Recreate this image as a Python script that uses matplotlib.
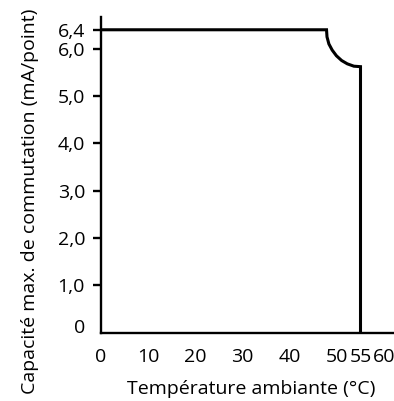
import matplotlib
matplotlib.use("Agg")
import matplotlib.pyplot as plt
from matplotlib.transforms import ScaledTranslation

# Derating curve: max switching capacity vs ambient temperature
temperature = [0, 47.8, 47.9, 48.3, 49.0, 49.9, 51.0, 52.2, 53.6, 55.0, 55.0]
capacity = [6.4, 6.4, 6.25, 6.1, 5.97, 5.85, 5.75, 5.68, 5.63, 5.62, 0]

x_ticks = [0, 10, 20, 30, 40, 50, 55, 60]
x_tick_labels = ["0", "10", "20", "30", "40", "50", "55", "60"]
x_marked_ticks = [55, 60]
y_ticks = [0, 1.0, 2.0, 3.0, 4.0, 5.0, 6.0, 6.4]
y_tick_labels = ["0", "1,0", "2,0", "3,0", "4,0", "5,0", "6,0", "6,4"]

plt.rcParams["font.family"] = ["Open Sans", "DejaVu Sans"]
fs = 14

fig = plt.figure(figsize=(3.94, 4.01), dpi=100)
ax = fig.add_axes([101 / 394, 68.5 / 401, 293 / 394, 315.5 / 401])

ax.plot(temperature, capacity, color="black", lw=2.2, solid_joinstyle="miter",
        solid_capstyle="butt", clip_on=False, zorder=3)

ax.set_xlim(0, 62.1)
ax.set_ylim(0, 6.67)

for side in ("top", "right"):
    ax.spines[side].set_visible(False)
for side in ("left", "bottom"):
    ax.spines[side].set_linewidth(1.7)

ax.set_xticks(x_ticks)
ax.set_xticklabels(x_tick_labels, fontsize=fs)
ax.set_xticks(x_marked_ticks, minor=True)
ax.tick_params(axis="x", which="major", length=0, pad=11)
ax.tick_params(axis="x", which="minor", length=4, width=1.7, direction="out")

ax.set_yticks(y_ticks)
ax.set_yticklabels(y_tick_labels, fontsize=fs)
ax.tick_params(axis="y", length=5.5, width=1.7, direction="out", pad=6)
ax.yaxis.get_major_ticks()[0].tick1line.set_visible(False)

# lift the zero label off the horizontal axis line
labels = ax.get_yticklabels()
labels[0].set_transform(labels[0].get_transform()
                        + ScaledTranslation(0, 5 / 72, fig.dpi_scale_trans))

ax.set_xlabel("Température ambiante (°C)", fontsize=fs)
ax.xaxis.set_label_coords(0.514, -0.179)
ax.xaxis.label.set_va("center")

ax.set_ylabel("Capacité max. de commutation (mA/point)", fontsize=fs)
ax.yaxis.set_label_coords(-0.242, 0.417)
ax.yaxis.label.set_va("center")

fig.savefig("out.png", dpi=100)
